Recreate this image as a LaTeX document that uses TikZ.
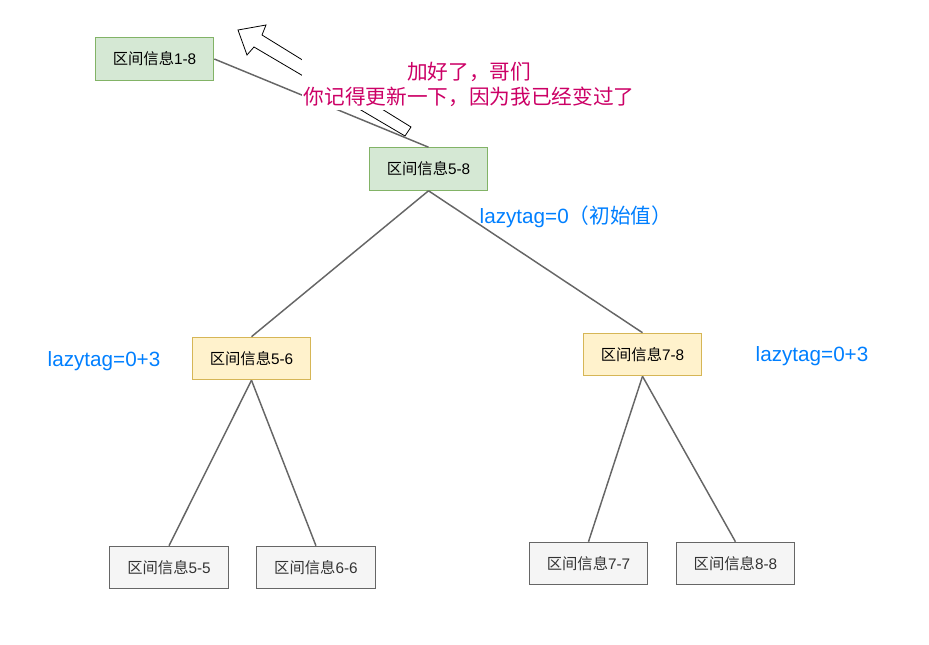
\documentclass[tikz,border=0pt]{standalone}
\usepackage{fontspec}
\setmainfont{Liberation Sans}
\newfontfamily\cjk{Noto Sans CJK SC}
\usepackage{tikz}
\usetikzlibrary{positioning}
\definecolor{updfill}{HTML}{D5E8D4}
\definecolor{updline}{HTML}{82B366}
\definecolor{lazyfill}{HTML}{FFF2CC}
\definecolor{lazyline}{HTML}{D6B656}
\definecolor{leaffill}{HTML}{F5F5F5}
\definecolor{edgegray}{HTML}{666666}
\definecolor{notepink}{HTML}{CC0066}
\definecolor{tagblue}{HTML}{007FFF}
\newcommand{\seg}[1]{{\cjk 区间信息}#1}

\begin{document}
\begin{tikzpicture}[
      x=0.75pt, y=-0.75pt, font=\fontsize{11.5}{13}\selectfont,
      box/.style={draw, minimum width=89pt, minimum height=32pt, inner sep=0pt,
                  line width=0.7pt},
      upd/.style={fill=updfill, draw=updline},
      lazy/.style={fill=lazyfill, draw=lazyline},
      leaf/.style={fill=leaffill, draw=edgegray, text=black!80},
      link/.style={draw=edgegray, line width=1.1pt},
      tagnote/.style={text=tagblue, font=\fontsize{15.5}{18}\selectfont},
    ]
    \useasboundingbox (0,0) rectangle (929,645);

    % tree nodes
    \node[box, upd] (s18) at (154.5,59) {\seg{1-8}};
    \node[box, upd] (s58) at (428.5,169) {\seg{5-8}};
    \node[box, lazy] (s56) at (251.5,358.5) {\seg{5-6}};
    \node[box, lazy] (s78) at (642.5,354.5) {\seg{7-8}};
    \node[box, leaf] (s55) at (169,567.5) {\seg{5-5}};
    \node[box, leaf, right=20.5pt of s55] (s66) {\seg{6-6}};
    \node[box, leaf] (s77) at (588.5,563.5) {\seg{7-7}};
    \node[box, leaf, right=20.5pt of s77] (s88) {\seg{8-8}};

    \draw[link] (s18.east) -- (s58.north);
    \draw[link] (s58.south) -- (s56.north);
    \draw[link] (s58.south) -- (s78.north);
    \draw[link] (s56.south) -- (s55.north);
    \draw[link] (s56.south) -- (s66.north);
    \draw[link] (s78.south) -- (s77.north);
    \draw[link] (s78.south) -- (s88.north);

    % hollow arrow pointing back up to the parent
    \draw[fill=white, line width=0.6pt, line join=miter]
      (238,30) -- (266,25) -- (262,35) -- (411,127) -- (405,136)
      -- (254,47) -- (247,55) -- cycle;

    \node[fill=white, inner xsep=1pt, inner ysep=3pt, align=center, text=notepink,
          font=\fontsize{15.5}{18.75}\selectfont] (msg) at (469,84)
      {{\cjk 加好了，哥们}\\{\cjk 你记得更新一下，因为我已经变过了}};

    \node[tagnote, anchor=west] (tag58) at (475,217) {lazytag=0{\cjk（初始值）}};
    \node[tagnote, anchor=west] (tag56) at (43,361) {lazytag=0+3};
    \node[tagnote, anchor=west] (tag78) at (751,356) {lazytag=0+3};
  \end{tikzpicture}
\end{document}
